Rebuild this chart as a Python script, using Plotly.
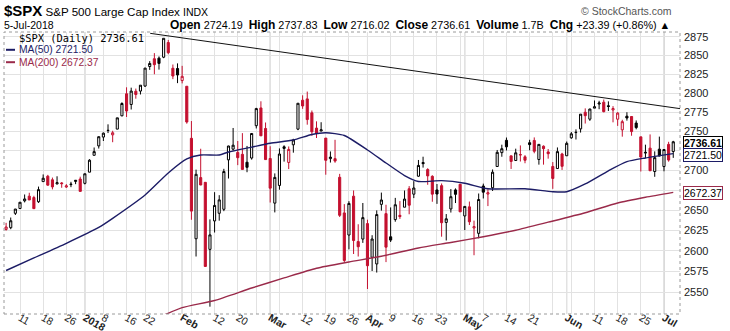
import numpy as np
import plotly.graph_objects as go

# ---------------- data ----------------
dates = (
    ["2017-12-%02d" % d for d in [6, 7, 8, 11, 12, 13, 14, 15, 18, 19, 20, 21, 22, 26, 27, 28, 29]]
    + ["2018-01-%02d" % d for d in [2, 3, 4, 5, 8, 9, 10, 11, 12, 16, 17, 18, 19, 22, 23, 24, 25, 26, 29, 30, 31]]
    + ["2018-02-%02d" % d for d in [1, 2, 5, 6, 7, 8, 9, 12, 13, 14, 15, 16, 20, 21, 22, 23, 26, 27, 28]]
    + ["2018-03-%02d" % d for d in [1, 2, 5, 6, 7, 8, 9, 12, 13, 14, 15, 16, 19, 20, 21, 22, 23, 26, 27, 28, 29]]
    + ["2018-04-%02d" % d for d in [2, 3, 4, 5, 6, 9, 10, 11, 12, 13, 16, 17, 18, 19, 20, 23, 24, 25, 26, 27, 30]]
    + ["2018-05-%02d" % d for d in [1, 2, 3, 4, 7, 8, 9, 10, 11, 14, 15, 16, 17, 18, 21, 22, 23, 24, 25, 29, 30, 31]]
    + ["2018-06-%02d" % d for d in [1, 4, 5, 6, 7, 8, 11, 12, 13, 14, 15, 18, 19, 20, 21, 22, 25, 26, 27, 28, 29]]
    + ["2018-07-%02d" % d for d in [2, 3, 5]]
)

opens = [2626.24, 2628.38, 2646.21, 2652.19, 2661.73, 2667.59, 2665.87, 2660.63, 2685.92, 2692.71, 2688.18, 2683.02, 2684.22, 2679.09, 2682.10, 2686.10, 2689.15,
         2683.73, 2697.85, 2719.31, 2731.33, 2742.67, 2751.15, 2745.55, 2752.97, 2770.18, 2798.96, 2784.99, 2802.40, 2802.60, 2809.16, 2835.05, 2845.42, 2846.24, 2847.48, 2867.23, 2832.74, 2832.41,
         2816.45, 2808.92, 2741.06, 2614.78, 2690.95, 2685.01, 2601.78, 2636.75, 2646.27, 2651.21, 2713.46, 2727.14, 2722.99, 2720.53, 2710.42, 2715.80, 2757.37, 2780.45, 2753.78,
         2715.22, 2658.89, 2681.06, 2730.18, 2710.18, 2732.75, 2752.91, 2790.54, 2792.31, 2774.06, 2754.27, 2750.57, 2741.38, 2715.05, 2714.99, 2691.36, 2646.71, 2619.35, 2667.57, 2611.30, 2614.41,
         2633.45, 2592.17, 2584.04, 2657.36, 2645.82, 2617.18, 2638.41, 2643.69, 2653.83, 2676.90, 2670.10, 2692.74, 2710.11, 2701.16, 2692.56, 2675.40, 2680.80, 2634.92, 2651.65, 2675.47, 2682.51,
         2642.96, 2654.24, 2628.08, 2621.45, 2680.34, 2670.26, 2678.12, 2705.02, 2722.70, 2738.47, 2718.59, 2712.62, 2719.71, 2717.35, 2735.39, 2738.34, 2713.98, 2730.94, 2723.60, 2705.11, 2702.43, 2720.98,
         2718.70, 2741.67, 2748.46, 2753.25, 2774.84, 2765.84, 2780.18, 2785.60, 2787.94, 2783.21, 2777.78, 2765.79, 2752.01, 2769.73, 2769.28, 2760.79, 2742.94, 2722.12, 2728.45, 2698.69, 2727.13,
         2704.95, 2733.27, 2724.19]
highs = [2634.41, 2640.99, 2651.65, 2660.33, 2669.72, 2671.88, 2668.09, 2679.63, 2694.97, 2694.44, 2691.01, 2692.64, 2685.35, 2682.74, 2685.64, 2687.66, 2692.12,
         2695.89, 2714.37, 2729.29, 2743.45, 2748.51, 2759.14, 2750.80, 2767.56, 2787.85, 2807.54, 2807.04, 2805.83, 2810.33, 2833.03, 2842.24, 2852.97, 2848.56, 2872.87, 2870.62, 2837.75, 2839.26,
         2835.96, 2808.92, 2763.39, 2701.04, 2727.67, 2685.27, 2638.67, 2672.61, 2668.84, 2702.10, 2731.51, 2754.42, 2737.60, 2747.75, 2731.26, 2747.76, 2780.64, 2789.15, 2761.52,
         2730.89, 2696.25, 2728.09, 2732.08, 2730.60, 2740.45, 2786.57, 2796.98, 2801.90, 2777.11, 2763.03, 2761.85, 2741.38, 2724.22, 2739.14, 2695.68, 2657.67, 2661.36, 2674.78, 2632.65, 2659.07,
         2638.30, 2619.14, 2649.86, 2672.08, 2656.88, 2653.55, 2665.45, 2661.43, 2674.72, 2680.26, 2686.49, 2713.34, 2717.49, 2702.84, 2693.94, 2682.86, 2683.55, 2645.30, 2676.48, 2677.35, 2682.87,
         2655.27, 2660.87, 2637.14, 2670.93, 2683.35, 2676.34, 2701.27, 2726.11, 2732.86, 2742.10, 2718.59, 2727.76, 2731.96, 2719.50, 2739.19, 2742.24, 2733.33, 2731.97, 2727.36, 2710.67, 2729.34, 2722.50,
         2736.93, 2749.16, 2752.61, 2772.39, 2779.90, 2779.39, 2790.21, 2789.80, 2791.47, 2789.06, 2782.81, 2774.99, 2765.05, 2774.86, 2769.28, 2764.17, 2742.94, 2732.91, 2746.09, 2724.34, 2743.26,
         2727.26, 2736.58, 2737.83]
lows = [2624.75, 2626.53, 2644.10, 2651.47, 2659.78, 2662.85, 2652.01, 2659.14, 2685.92, 2680.74, 2676.11, 2682.40, 2678.13, 2677.96, 2678.91, 2682.69, 2673.61,
        2682.36, 2697.77, 2719.07, 2727.92, 2737.60, 2747.86, 2736.06, 2752.78, 2769.64, 2768.64, 2778.38, 2792.56, 2798.08, 2808.12, 2830.59, 2824.81, 2830.94, 2846.18, 2851.48, 2818.27, 2813.04,
        2812.70, 2759.97, 2638.17, 2593.07, 2681.33, 2580.56, 2532.69, 2622.45, 2637.08, 2648.87, 2689.82, 2725.11, 2706.76, 2701.29, 2697.77, 2713.74, 2753.78, 2744.22, 2713.54,
        2659.65, 2647.32, 2675.75, 2711.26, 2701.74, 2722.65, 2751.54, 2779.26, 2758.68, 2744.38, 2741.47, 2749.97, 2694.59, 2710.05, 2709.79, 2641.59, 2585.89, 2601.81, 2596.12, 2593.06, 2609.72,
        2553.80, 2575.49, 2573.61, 2649.58, 2586.27, 2610.79, 2635.78, 2639.25, 2653.83, 2645.05, 2665.16, 2692.05, 2703.63, 2681.90, 2660.61, 2657.99, 2617.32, 2612.67, 2647.16, 2659.01, 2648.04,
        2625.41, 2631.70, 2594.62, 2615.32, 2664.70, 2655.20, 2674.14, 2704.54, 2717.45, 2725.47, 2701.91, 2712.17, 2711.36, 2709.18, 2725.70, 2721.88, 2707.38, 2707.38, 2714.99, 2676.81, 2702.43, 2700.68,
        2718.70, 2740.54, 2739.51, 2748.46, 2760.16, 2763.59, 2780.17, 2778.78, 2774.65, 2776.52, 2761.73, 2757.12, 2743.19, 2763.91, 2744.39, 2752.68, 2698.67, 2715.60, 2699.38, 2691.99, 2718.03,
        2698.95, 2711.16, 2716.02]
closes = [2629.27, 2636.98, 2651.50, 2659.99, 2664.11, 2662.85, 2652.01, 2675.81, 2690.16, 2681.47, 2679.25, 2684.57, 2683.34, 2680.50, 2682.62, 2687.54, 2673.61,
          2695.81, 2713.06, 2723.99, 2743.15, 2747.71, 2751.29, 2748.23, 2767.56, 2786.24, 2776.42, 2802.56, 2798.03, 2810.30, 2832.97, 2839.13, 2837.54, 2839.25, 2872.87, 2853.53, 2822.43, 2823.81,
          2821.98, 2762.13, 2648.94, 2695.14, 2681.66, 2581.00, 2619.55, 2656.00, 2662.94, 2698.63, 2731.20, 2732.22, 2716.26, 2701.33, 2703.96, 2747.30, 2779.60, 2744.28, 2713.83,
          2677.67, 2691.25, 2720.94, 2728.12, 2726.80, 2738.97, 2786.57, 2783.02, 2765.31, 2749.48, 2747.33, 2752.01, 2712.92, 2716.94, 2711.93, 2643.69, 2588.26, 2658.55, 2612.62, 2605.00, 2640.87,
          2581.88, 2614.45, 2644.69, 2662.84, 2604.47, 2613.16, 2656.87, 2642.19, 2663.99, 2656.30, 2677.84, 2706.39, 2708.64, 2693.13, 2670.14, 2670.29, 2634.56, 2639.40, 2666.94, 2669.91, 2648.05,
          2654.80, 2635.67, 2629.73, 2663.42, 2672.63, 2671.92, 2697.79, 2723.07, 2727.72, 2730.13, 2711.45, 2722.46, 2720.13, 2712.97, 2733.01, 2724.44, 2733.29, 2727.76, 2721.33, 2689.86, 2724.01, 2705.27,
          2734.62, 2746.87, 2748.80, 2772.35, 2770.37, 2779.03, 2782.00, 2786.85, 2775.63, 2782.49, 2779.66, 2773.75, 2762.59, 2767.32, 2749.76, 2754.88, 2717.07, 2723.06, 2699.63, 2716.31, 2718.37,
          2726.71, 2713.22, 2736.61]
prev_close_before_start = 2629.57

ma50_dates = ["2017-12-06", "2017-12-14", "2017-12-26", "2018-01-05", "2018-01-10", "2018-01-22", "2018-01-29",
              "2018-02-02", "2018-02-07", "2018-02-13", "2018-02-15", "2018-02-23", "2018-03-01", "2018-03-08",
              "2018-03-14", "2018-03-19", "2018-03-23", "2018-04-02", "2018-04-06", "2018-04-12", "2018-04-17",
              "2018-04-24", "2018-05-01", "2018-05-08", "2018-05-18", "2018-05-29", "2018-06-01", "2018-06-07",
              "2018-06-14", "2018-06-20", "2018-06-26", "2018-07-05"]
ma50_values = [2576.1, 2591.3, 2609.2, 2628.7, 2640.0, 2669.1, 2696.8,
               2714.6, 2719.7, 2719.7, 2723.5, 2729.7, 2734.7, 2738.9,
               2746.0, 2748.2, 2744.7, 2726.1, 2709.5, 2693.6, 2686.1,
               2687.1, 2683.8, 2676.9, 2676.9, 2673.2, 2673.2, 2682.9,
               2699.6, 2711.2, 2715.9, 2721.50]

ma200_dates = ["2018-01-26", "2018-02-01", "2018-02-12", "2018-02-23", "2018-03-06", "2018-03-15", "2018-03-26",
               "2018-04-05", "2018-04-17", "2018-04-26", "2018-05-07", "2018-05-16", "2018-05-25", "2018-06-07",
               "2018-06-18", "2018-06-26", "2018-07-05"]
ma200_values = [2522.5, 2531.5, 2540.1, 2555.0, 2567.1, 2578.8, 2586.4,
                2593.4, 2603.5, 2610.2, 2617.3, 2625.3, 2635.2, 2646.9,
                2659.1, 2666.2, 2672.37]

# user-drawn trendline: (trading-day position, price)
trend_pos = [31.1, 145.5]
trend_values = [2879.6, 2779.5]

tick_dates = ["2017-12-11", "2017-12-18", "2017-12-26", "2018-01-02", "2018-01-08", "2018-01-16", "2018-01-22",
              "2018-01-29", "2018-02-01", "2018-02-05", "2018-02-12", "2018-02-20", "2018-02-26", "2018-03-01",
              "2018-03-05", "2018-03-12", "2018-03-19", "2018-03-26", "2018-04-02", "2018-04-09", "2018-04-16",
              "2018-04-23", "2018-04-30", "2018-05-01", "2018-05-07", "2018-05-14", "2018-05-21", "2018-05-29",
              "2018-06-01", "2018-06-04", "2018-06-11", "2018-06-18", "2018-06-25", "2018-07-02"]
tick_labels = ["11", "18", "26", "<b>2018</b>", "8", "16", "22",
               "", "<b>Feb</b>", "", "12", "20", "", "<b>Mar</b>",
               "", "12", "19", "26", "<b>Apr</b>", "9", "16",
               "23", "", "<b>May</b>", "7", "14", "21", "",
               "<b>Jun</b>", "", "11", "18", "25", "<b>Jul</b>"]
month_start_dates = ["2018-01-02", "2018-02-01", "2018-03-01", "2018-04-02", "2018-05-01", "2018-06-01", "2018-07-02"]

y_ticks = [2550, 2575, 2600, 2625, 2650, 2675, 2700, 2725, 2750, 2775, 2800, 2825, 2850, 2875]
y_tick_labels = ["2550", "2575", "2600", "2625", "2650", "", "2700", "", "2750", "2775", "2800", "2825", "2850", "2875"]

title_symbol = "$SPX"
title_name = "S&amp;P 500 Large Cap Index"
title_exchange = "INDX"
chart_date = "5-Jul-2018"
volume_text = "1.7B"

# ---------------- styling ----------------
RED = "#c4102f"
NAVY = "#1c1c66"
MAROON = "#9a2a4a"
FONT = "Arial, Liberation Sans, sans-serif"

pos = {d: i for i, d in enumerate(dates)}
n = len(dates)
prev = [prev_close_before_start] + closes[:-1]
up_day = [c >= p for c, p in zip(closes, prev)]

fig = go.Figure()

# month separators (darker vertical lines)
for d in month_start_dates:
    fig.add_shape(type="line", xref="x", yref="paper", x0=pos[d], x1=pos[d], y0=0, y1=1,
                  line=dict(color="#b4b4b4", width=1), layer="below")

for grp, col in [(True, "#000000"), (False, RED)]:
    sel = [i for i in range(n) if up_day[i] == grp]
    fig.add_trace(go.Candlestick(
        x=sel,
        open=[opens[i] for i in sel], high=[highs[i] for i in sel],
        low=[lows[i] for i in sel], close=[closes[i] for i in sel],
        increasing=dict(line=dict(color=col, width=1), fillcolor="#ffffff"),
        decreasing=dict(line=dict(color=col, width=1), fillcolor=col),
        whiskerwidth=0, showlegend=False,
    ))

fig.add_trace(go.Scatter(x=[pos[d] for d in ma200_dates], y=ma200_values, mode="lines",
                         line=dict(color=MAROON, width=1.4, shape="spline", smoothing=0.6),
                         showlegend=False, hoverinfo="skip"))
fig.add_trace(go.Scatter(x=[pos[d] for d in ma50_dates], y=ma50_values, mode="lines",
                         line=dict(color=NAVY, width=1.4, shape="spline", smoothing=0.6),
                         showlegend=False, hoverinfo="skip"))
fig.add_trace(go.Scatter(x=trend_pos, y=trend_values, mode="lines",
                         line=dict(color="#111111", width=1), showlegend=False, hoverinfo="skip"))

L, R, T, B = 4, 50, 32, 17
W, H = 730, 331
pw, ph = W - L - R, H - T - B


def px_x(px):
    return (px - L) / pw


def px_y(py):
    return (H - B - py) / ph


xlo = (L - 6.1) / 4.633
xhi = (W - R - 6.1) / 4.633

fig.update_layout(
    width=W, height=H,
    margin=dict(l=L, r=R, t=T, b=B, autoexpand=False),
    paper_bgcolor="white", plot_bgcolor="white",
    font=dict(family=FONT, size=11, color="#222"),
    boxgap=0.35,
    xaxis=dict(range=[xlo, xhi], tickvals=[pos[d] for d in tick_dates], ticktext=tick_labels,
               showgrid=True, gridcolor="#e2e2e2", gridwidth=1, zeroline=False, showline=False,
               ticks="", ticklabelstandoff=-5, tickfont=dict(size=10.5, family=FONT, color="#222"),
               automargin=False, rangeslider=dict(visible=False), fixedrange=True),
    yaxis=dict(type="log", side="right", range=[np.log10(2524.0), np.log10(2881.4)],
               tickvals=y_ticks, ticktext=y_tick_labels, showgrid=True, gridcolor="#e2e2e2",
               zeroline=False, showline=False, ticks="", ticklabelstandoff=3, automargin=False,
               tickfont=dict(size=11, family=FONT, color="#222"), fixedrange=True),
    hovermode=False,
)

# plot frame
fig.add_shape(type="rect", xref="paper", yref="paper", x0=0, x1=1, y0=0, y1=1,
              line=dict(color="#9a9a9a", width=1, dash="dot"))

ann = []
ann.append(dict(x=px_x(2), y=px_y(10.5), xref="paper", yref="paper", xanchor="left", yanchor="middle",
                showarrow=False,
                text=("<b><span style='font-size:15px'>%s</span></b> "
                      "<span style='font-size:11.6px'>%s</span> "
                      "<span style='font-size:10.5px'>%s</span>") % (title_symbol, title_name, title_exchange),
                font=dict(family=FONT, color="#000")))
ann.append(dict(x=px_x(2), y=px_y(25), xref="paper", yref="paper", xanchor="left", yanchor="middle",
                showarrow=False, text=chart_date, font=dict(family=FONT, size=10.5, color="#000")))
chg = closes[-1] - closes[-2]
chg_pct = chg / closes[-2] * 100
ohlc_text = ("<b><span style='font-size:12px'>Open</span></b> %.2f  "
             "<b><span style='font-size:12px'>High</span></b> %.2f  "
             "<b><span style='font-size:12px'>Low</span></b> %.2f  "
             "<b><span style='font-size:12px'>Close</span></b> %.2f  "
             "<b><span style='font-size:12px'>Volume</span></b> %s  "
             "<b><span style='font-size:12px'>Chg</span></b> %+.2f (%+.2f%%) \u25b2") % (
    opens[-1], highs[-1], lows[-1], closes[-1], volume_text, chg, chg_pct)
ann.append(dict(x=px_x(672), y=px_y(25), xref="paper", yref="paper", xanchor="right", yanchor="middle",
                showarrow=False, text=ohlc_text, font=dict(family=FONT, size=10.8, color="#000")))
ann.append(dict(x=px_x(674), y=px_y(11.5), xref="paper", yref="paper", xanchor="right", yanchor="middle",
                showarrow=False, text="\u00a9 StockCharts.com", font=dict(family=FONT, size=10.5, color="#555")))

# in-chart legend
ann.append(dict(x=px_x(17), y=px_y(37.8), xref="paper", yref="paper", xanchor="left", yanchor="middle",
                showarrow=False, text="%s (Daily) %.2f" % (title_symbol, closes[-1]),
                font=dict(family="DejaVu Sans Mono, monospace", size=10.4, color="#000")))
ann.append(dict(x=px_x(17), y=px_y(49.8), xref="paper", yref="paper", xanchor="left", yanchor="middle",
                showarrow=False, text="MA(50) %.2f" % ma50_values[-1],
                font=dict(family=FONT, size=10.3, color=NAVY)))
ann.append(dict(x=px_x(17), y=px_y(62.2), xref="paper", yref="paper", xanchor="left", yanchor="middle",
                showarrow=False, text="MA(200) %.2f" % ma200_values[-1],
                font=dict(family=FONT, size=10.3, color=MAROON)))
for yy, col in [(49.8, NAVY), (62.2, MAROON)]:
    fig.add_shape(type="line", xref="paper", yref="paper", x0=px_x(6), x1=px_x(15), y0=px_y(yy), y1=px_y(yy),
                  line=dict(color=col, width=2))

# price tags on the right axis
for val, col, bold in [(closes[-1], "#000", True), (ma50_values[-1], NAVY, False), (ma200_values[-1], MAROON, False)]:
    txt = "%.2f" % val
    if bold:
        txt = "<b>%s</b>" % txt
    ann.append(dict(x=px_x(683), y=np.log10(val), xref="paper", yref="y", xanchor="left", yanchor="middle",
                    showarrow=False, text=txt, bgcolor="white", bordercolor=col, borderwidth=1, borderpad=0,
                    yshift=-1, font=dict(family=FONT, size=10.5, color="#000")))

fig.update_layout(annotations=ann)
fig.write_html("out.html")
